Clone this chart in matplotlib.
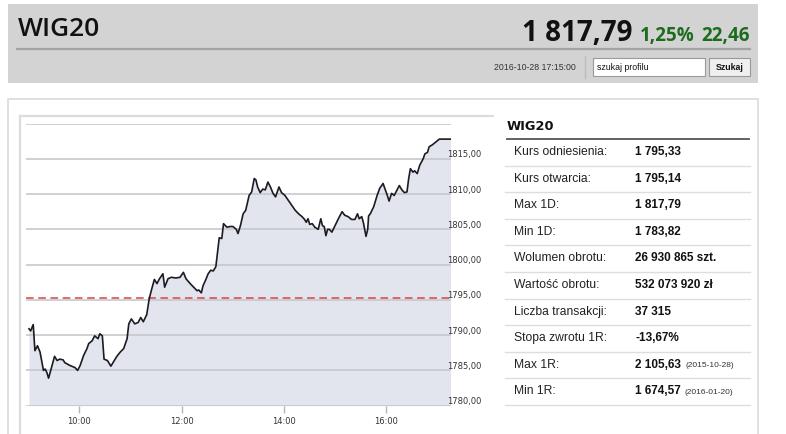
import numpy as np
import matplotlib
matplotlib.use("Agg")
import matplotlib.pyplot as plt
from matplotlib.patches import Rectangle

# intraday WIG20 quotes
times = ["09:01", "09:03", "09:06", "09:08", "09:11", "09:14", "09:18", "09:20", "09:22", "09:24",
         "09:28", "09:31", "09:34", "09:37", "09:41", "09:43", "09:49", "09:55", "09:58", "10:01",
         "10:05", "10:09", "10:11", "10:15", "10:18", "10:22", "10:24", "10:27", "10:29", "10:33",
         "10:37", "10:40", "10:44", "10:48", "10:52", "10:56", "10:58", "11:01", "11:05", "11:09",
         "11:12", "11:15", "11:19", "11:22", "11:25", "11:28", "11:31", "11:34", "11:38", "11:40",
         "11:44", "11:48", "11:53", "11:58", "12:02", "12:05", "12:10", "12:14", "12:18", "12:20",
         "12:23", "12:25", "12:28", "12:31", "12:34", "12:37", "12:40", "12:42", "12:44", "12:47",
         "12:49", "12:53", "12:57", "13:00", "13:04", "13:06", "13:09", "13:12", "13:15", "13:19",
         "13:22", "13:25", "13:27", "13:29", "13:32", "13:35", "13:38", "13:41", "13:44", "13:47",
         "13:50", "13:54", "13:57", "14:01", "14:05", "14:09", "14:13", "14:17", "14:21", "14:24",
         "14:26", "14:28", "14:30", "14:33", "14:36", "14:40", "14:43", "14:45", "14:47", "14:49",
         "14:51", "14:53", "14:56", "15:00", "15:04", "15:08", "15:11", "15:15", "15:19", "15:23",
         "15:26", "15:28", "15:31", "15:33", "15:36", "15:38", "15:39", "15:41", "15:45", "15:49",
         "15:52", "15:56", "15:58", "16:01", "16:03", "16:06", "16:09", "16:12", "16:15", "16:18",
         "16:21", "16:24", "16:26", "16:28", "16:31", "16:33", "16:36", "16:39", "16:43", "16:45",
         "16:48", "16:50", "16:54", "16:58", "17:02", "17:15"]
values = [1790.9, 1790.6, 1791.5, 1787.8, 1788.5, 1787.6, 1785.0, 1785.2, 1784.7, 1783.9,
          1785.7, 1787.0, 1786.4, 1786.6, 1786.5, 1786.1, 1785.7, 1785.4, 1785.0, 1785.7,
          1787.1, 1788.1, 1788.8, 1789.2, 1789.9, 1789.5, 1790.2, 1789.9, 1786.6, 1786.4,
          1785.6, 1786.2, 1787.0, 1787.6, 1788.1, 1789.5, 1791.6, 1792.3, 1791.6, 1791.8,
          1792.5, 1791.9, 1792.9, 1795.2, 1796.6, 1797.9, 1797.3, 1798.0, 1798.7, 1796.8,
          1798.0, 1798.2, 1798.1, 1798.2, 1798.9, 1798.0, 1797.3, 1796.8, 1796.3, 1796.4,
          1796.0, 1797.0, 1797.8, 1798.7, 1799.2, 1799.1, 1799.7, 1801.8, 1803.8, 1803.7,
          1805.8, 1805.3, 1805.4, 1805.4, 1805.0, 1804.4, 1805.6, 1807.2, 1807.7, 1809.8,
          1810.3, 1812.2, 1812.0, 1811.0, 1810.2, 1810.7, 1810.6, 1811.7, 1811.0, 1810.1,
          1809.6, 1811.0, 1810.2, 1809.8, 1809.1, 1808.4, 1807.7, 1807.2, 1806.8, 1806.4,
          1806.0, 1806.5, 1805.7, 1805.8, 1805.3, 1805.0, 1806.5, 1805.5, 1805.4, 1804.1,
          1805.0, 1805.0, 1804.6, 1805.6, 1806.6, 1807.5, 1807.0, 1806.8, 1806.4, 1806.4,
          1807.2, 1806.5, 1806.8, 1805.9, 1804.0, 1805.0, 1806.9, 1807.2, 1808.2, 1809.8,
          1810.8, 1811.5, 1810.8, 1809.8, 1809.0, 1810.1, 1809.8, 1810.5, 1811.2, 1810.6,
          1810.2, 1810.3, 1812.2, 1813.6, 1813.1, 1813.3, 1812.9, 1814.1, 1815.0, 1815.7,
          1815.9, 1816.7, 1817.0, 1817.4, 1817.79, 1817.79]
ref_level = 1795.33
y_ticks = [1780, 1785, 1790, 1795, 1800, 1805, 1810, 1815]
x_ticks = ["10:00", "12:00", "14:00", "16:00"]

table_labels = ["Kurs odniesienia:", "Kurs otwarcia:", "Max 1D:", "Min 1D:", "Wolumen obrotu:",
                "Wartość obrotu:", "Liczba transakcji:", "Stopa zwrotu 1R:", "Max 1R:", "Min 1R:"]
table_values = ["1 795,33", "1 795,14", "1 817,79", "1 783,82", "26 930 865 szt.",
                "532 073 920 zł", "37 315", "-13,67%", "2 105,63", "1 674,57"]
table_dates = ["", "", "", "", "", "", "", "", "(2015-10-28)", "(2016-01-20)"]


def to_hours(s):
    h, m = s.split(":")
    return int(h) + int(m) / 60.0


t = np.array([to_hours(s) for s in times])
v = np.array(values)

W, H = 786, 435
fig = plt.figure(figsize=(W / 100, H / 100), dpi=100)
fig.patch.set_facecolor("white")

# background layer in pixel coordinates
bg = fig.add_axes([0, 0, 1, 1], zorder=0)
bg.set_xlim(0, W)
bg.set_ylim(H, 0)
bg.axis("off")

# header
bg.add_patch(Rectangle((8, 5), 750, 79, facecolor="#d3d3d3", edgecolor="none"))
bg.plot([17, 750], [50, 50], color="#a3a3a3", lw=1.6)
bg.text(18, 29, "WIG20", fontsize=19, family="Open Sans", weight="semibold",
        color="#111111", va="center", ha="left")
bg.text(632, 41, "1 817,79", fontsize=20, family="Open Sans", weight="bold",
        color="#111111", va="baseline", ha="right")
bg.text(640, 41, "1,25%", fontsize=13.5, family="Open Sans", weight="bold",
        color="#1d6b1d", va="baseline", ha="left")
bg.text(750, 41, "22,46", fontsize=13.5, family="Open Sans", weight="bold",
        color="#1d6b1d", va="baseline", ha="right")
bg.text(576, 68, "2016-10-28 17:15:00", fontsize=6.3, family="Liberation Sans",
        color="#333333", va="center", ha="right")
bg.plot([585, 585], [57, 79], color="#bdbdbd", lw=1)
bg.add_patch(Rectangle((593, 59), 112, 18, facecolor="white", edgecolor="#9a9a9a", lw=0.8))
bg.text(597, 68, "szukaj profilu", fontsize=6.3, family="Liberation Sans",
        color="#111111", va="center", ha="left")
bg.add_patch(Rectangle((709, 59), 41, 18, facecolor="#efefef", edgecolor="#999999", lw=0.8))
bg.text(729.5, 68, "Szukaj", fontsize=6.3, family="Liberation Sans", weight="bold",
        color="#111111", va="center", ha="center")

# content frames
bg.add_patch(Rectangle((8, 100), 750, 400, facecolor="white", edgecolor="#dadada", lw=1.2))
bg.plot([20, 493], [116.7, 116.7], color="#dcdcdc", lw=1.6)
bg.plot([20, 20], [116.7, 440], color="#dcdcdc", lw=1.6)

# table
bg.text(507, 127, "WIG20", fontsize=9.3, family="DejaVu Sans", weight="bold",
        color="#111111", va="center", ha="left")
bg.plot([507, 749], [140, 140], color="#555555", lw=1.3)
row_h = 26.6
for i, (lab, val, dt) in enumerate(zip(table_labels, table_values, table_dates)):
    yc = 140 + row_h * i + 12
    bg.text(514, yc, lab, fontsize=8.7, family="Liberation Sans", color="#222222",
            va="center", ha="left")
    vt = bg.text(635, yc, val, fontsize=8.5, family="Liberation Sans", weight="bold",
                 color="#111111", va="center", ha="left")
    if dt:
        bg.annotate(dt, xy=(1, 0.5), xycoords=vt, xytext=(3, -0.5), textcoords="offset points",
                    fontsize=6, family="Liberation Sans", color="#333333",
                    va="center", ha="left")
    yl = 140 + row_h * (i + 1)
    bg.plot([505, 750], [yl, yl], color="#dddddd", lw=1)

# chart
x0, x1 = 8.95, 17.25
px_per_h = 51.2
left_px = 28.1 - (9.0 - x0) * px_per_h
right_px = 28.1 + (x1 - 9.0) * px_per_h
top_px, bot_px = 124.5, 406.7
ax = fig.add_axes([left_px / W, 1 - bot_px / H, (right_px - left_px) / W, (bot_px - top_px) / H],
                  zorder=2)
ax.patch.set_alpha(0)
ax.set_xlim(x0, x1)
ax.set_ylim(1780, 1820)

ax.fill_between(t, v, 1780, color="#e2e5ee", lw=0, zorder=1)
for g in y_ticks + [1820]:
    ax.axhline(g, color="#c6c8cc", lw=1.2, zorder=2)
ax.axhline(ref_level, color="#d9443f", lw=1.1, ls=(0, (5, 3)), zorder=3)
ax.plot(t, v, color="#1b1b22", lw=1.2, zorder=4)

for g in y_ticks:
    ax.annotate(f"{g},00", xy=(1, g), xycoords=("axes fraction", "data"), xytext=(-3, 0.5),
                textcoords="offset pixels", fontsize=6, color="#333333",
                va="bottom", ha="left", annotation_clip=False)

for s in ax.spines.values():
    s.set_visible(False)
ax.set_yticks([])
ax.set_xticks([to_hours(s) for s in x_ticks])
ax.set_xticklabels(x_ticks)
ax.tick_params(axis="x", length=5, width=1, color="#b5b5b5", labelsize=6,
               labelcolor="#333333", pad=2.5)

fig.savefig("out.png", dpi=100, facecolor="white")
